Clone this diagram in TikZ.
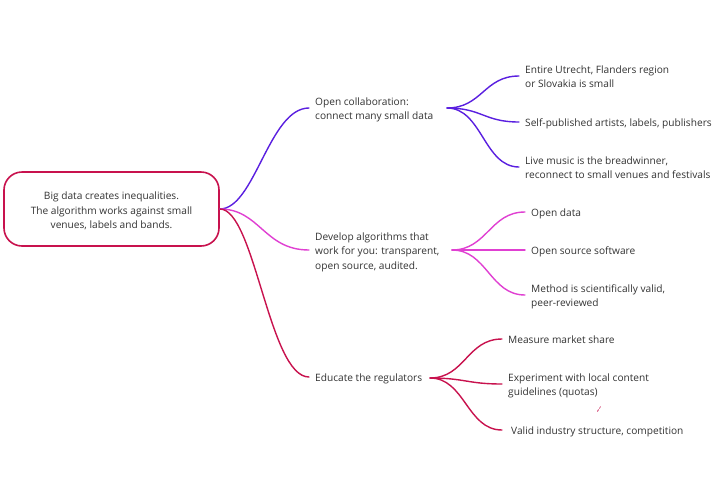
\documentclass[tikz,border=0pt]{standalone}
\usepackage{fontspec}
\setmainfont{Open Sans}
\definecolor{txt}{HTML}{333333}
\definecolor{cpurple}{HTML}{5A1FE0}
\definecolor{cmagenta}{HTML}{E040D2}
\definecolor{ccrimson}{HTML}{C8124E}
\newcommand{\txl}[1]{\raisebox{-1.8pt}[\height][\depth]{\begin{tabular}{@{}l@{}}#1\end{tabular}}}
\newcommand{\txc}[1]{\raisebox{-2.2pt}[\height][\depth]{\begin{tabular}{@{}c@{}}#1\end{tabular}}}
\begin{document}
\begin{tikzpicture}[x=1pt,y=-1pt,
  every node/.style={font=\fontsize{10.15}{14.5}\selectfont, text=txt},
  rootbox/.style={draw=ccrimson, line width=1.6pt, rounded corners=18pt, minimum width=215pt, minimum height=74pt, inner sep=0pt},
  leaf/.style={anchor=west, inner ysep=0pt, inner xsep=6pt},
  link/.style={line width=1.4pt, line cap=round},
]
\useasboundingbox (0,0) rectangle (720,480);
\fill[white] (0,0) rectangle (720,480);

\node[rootbox] (root) at (111.5,209) {\txc{Big data creates inequalities.\\The algorithm works against small\\venues, labels and bands.}};

% main branches
\node[leaf] (b1) at (309,108) {\txl{Open collaboration:\\connect many small data}};
\node[leaf] (b2) at (309,250) {\txl{Develop algorithms that\\work for you: transparent,\\open source, audited.}};
\node[leaf] (b3) at (309,377) {\txl{Educate the regulators}};

\coordinate (h1) at (447,108);
\coordinate (h2) at (452,250);
\coordinate (h3) at (430,378);

% children of b1
\node[leaf] (c11) at (519,76) {\txl{Entire Utrecht, Flanders region\\or Slovakia is small}};
\node[leaf] (c12) at (519,122) {\txl{Self-published artists, labels, publishers}};
\node[leaf] (c13) at (519,167) {\txl{Live music is the breadwinner,\\reconnect to small venues and festivals}};

% children of b2
\node[leaf] (c21) at (525,212) {\txl{Open data}};
\node[leaf] (c22) at (525,250) {\txl{Open source software}};
\node[leaf] (c23) at (525,295) {\txl{Method is scientifically valid,\\peer-reviewed}};

% children of b3
\node[leaf] (c31) at (502,339) {\txl{Measure market share}};
\node[leaf] (c32) at (502,384) {\txl{Experiment with local content\\guidelines (quotas)}};
\node[leaf, inner xsep=9pt] (c33) at (502,430) {\txl{Valid industry structure, competition}};

% connectors root -> branches
\draw[link, cpurple] (root.east) .. controls +(35,0) and +(-40,0) .. (b1.west);
\draw[link, cmagenta] (root.east) .. controls +(40,0) and +(-45,0) .. (b2.west);
\draw[link, ccrimson] (root.east) .. controls +(35,0) and +(-40,0) .. (b3.west);

% hubs
\draw[link, cpurple] (h1) .. controls +(35,0) and +(-35,0) .. (c11.west);
\draw[link, cpurple] (h1) .. controls +(35,0) and +(-35,0) .. (c12.west);
\draw[link, cpurple] (h1) .. controls +(35,0) and +(-35,0) .. (c13.west);

\draw[link, cmagenta] (h2) .. controls +(35,0) and +(-35,0) .. (c21.west);
\draw[link, cmagenta] (h2) -- (c22.west);
\draw[link, cmagenta] (h2) .. controls +(35,0) and +(-35,0) .. (c23.west);

\draw[link, ccrimson] (h3) .. controls +(35,0) and +(-35,0) .. (c31.west);
\draw[link, ccrimson] (h3) .. controls +(35,0) and +(-35,0) .. (c32.west);
\draw[link, ccrimson] (h3) .. controls +(35,0) and +(-35,0) .. (c33.west);

% stray mark
\draw[ccrimson, line width=0.8pt] (597.5,411.5) -- (598.5,409.5);
\draw[ccrimson, line width=0.6pt] (599.5,408.5) -- (600.5,406.5);
\end{tikzpicture}
\end{document}
